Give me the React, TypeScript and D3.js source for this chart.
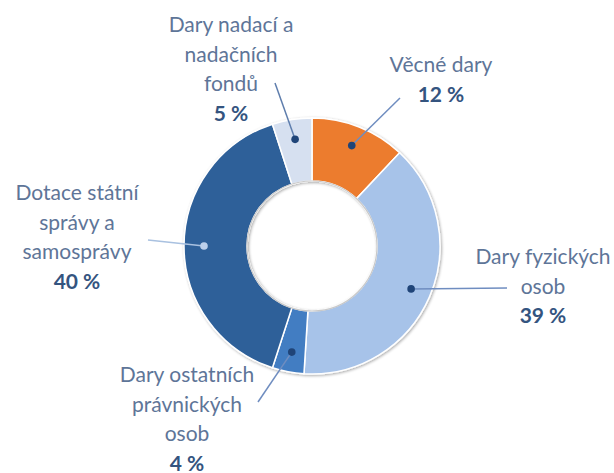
import React from "react";
import * as d3 from "d3";

const categories = [
  "Věcné dary",
  "Dary fyzických osob",
  "Dary ostatních právnických osob",
  "Dotace státní správy a samosprávy",
  "Dary nadací a nadačních fondů",
];
const values = [12, 39, 4, 40, 5];
const labelLines = [
  ["Věcné dary"],
  ["Dary fyzických", "osob"],
  ["Dary ostatních", "právnických", "osob"],
  ["Dotace státní", "správy a", "samosprávy"],
  ["Dary nadací a", "nadačních", "fondů"],
];
const percentLabels = values.map((v) => `${v} %`);

const sliceColors = ["#EC7B2D", "#A7C3E9", "#437DC2", "#2F6099", "#D6E0F0"];
const dotColors = ["#1F4478", "#1F4478", "#1F4478", "#BCD0EC", "#1F4478"];
const lineColors = ["#6F8DC0", "#6F8DC0", "#6F8DC0", "#A9C1E0", "#5F7EAD"];

// label anchor: centre x, first baseline; leader end point
const labelAnchors: [number, number][] = [
  [441, 72],
  [543, 264],
  [187, 382],
  [77, 200],
  [231, 32],
];
const leaderEnds: [number, number][] = [
  [400, 98],
  [507, 288],
  [258, 402],
  [148, 240],
  [275, 83],
];

const W = 614;
const H = 473;
const CX = 312;
const CY = 246;
const R_OUT = 128;
const R_IN = 65;
const LINE_H = 29.5;

export default function App() {
  const pie = d3
    .pie<number>()
    .sort(null)
    .value((v) => v)
    .startAngle(0)
    .endAngle(2 * Math.PI);
  const arcs = pie(values);
  const arc = d3.arc<d3.PieArcDatum<number>>().innerRadius(R_IN).outerRadius(R_OUT);
  const dotArc = d3.arc<d3.PieArcDatum<number>>().innerRadius(108).outerRadius(108);

  return (
    <svg
      width={W}
      height={H}
      style={{ position: "absolute", left: 0, top: 0, background: "#fff" }}
      fontFamily="Lato, 'Open Sans', sans-serif"
    >
      <defs>
        <filter id="sh" x="-20%" y="-20%" width="140%" height="140%">
          <feGaussianBlur in="SourceAlpha" stdDeviation="1.5" />
          <feOffset dx="0.5" dy="1" result="b" />
          <feComponentTransfer>
            <feFuncA type="linear" slope="0.35" />
          </feComponentTransfer>
          <feMerge>
            <feMergeNode />
            <feMergeNode in="SourceGraphic" />
          </feMerge>
        </filter>
      </defs>
      <g transform={`translate(${CX},${CY})`} filter="url(#sh)">
        {arcs.map((d, i) => (
          <path key={categories[i]} d={arc(d) || ""} fill={sliceColors[i]} stroke="#fff" strokeWidth={1.5} />
        ))}
      </g>
      <circle cx={CX} cy={CY} r={R_IN} fill="none" stroke="#c9c9c9" strokeWidth={1.2} />
      {arcs.map((d, i) => {
        const [dx, dy] = dotArc.centroid(d);
        const [ex, ey] = leaderEnds[i];
        return (
          <g key={"l" + i}>
            <line x1={CX + dx} y1={CY + dy} x2={ex} y2={ey} stroke={lineColors[i]} strokeWidth={1.5} />
            <circle cx={CX + dx} cy={CY + dy} r={3.8} fill={dotColors[i]} />
          </g>
        );
      })}
      {labelLines.map((lines, i) => {
        const [x, y] = labelAnchors[i];
        return (
          <text key={"t" + i} x={x} y={y} textAnchor="middle" fontSize={21}>
            {lines.map((ln, j) => (
              <tspan key={j} x={x} y={y + j * LINE_H} fill="#5E7598">
                {ln}
              </tspan>
            ))}
            <tspan x={x} y={y + lines.length * LINE_H} fill="#34547F" fontWeight="bold">
              {percentLabels[i]}
            </tspan>
          </text>
        );
      })}
    </svg>
  );
}
